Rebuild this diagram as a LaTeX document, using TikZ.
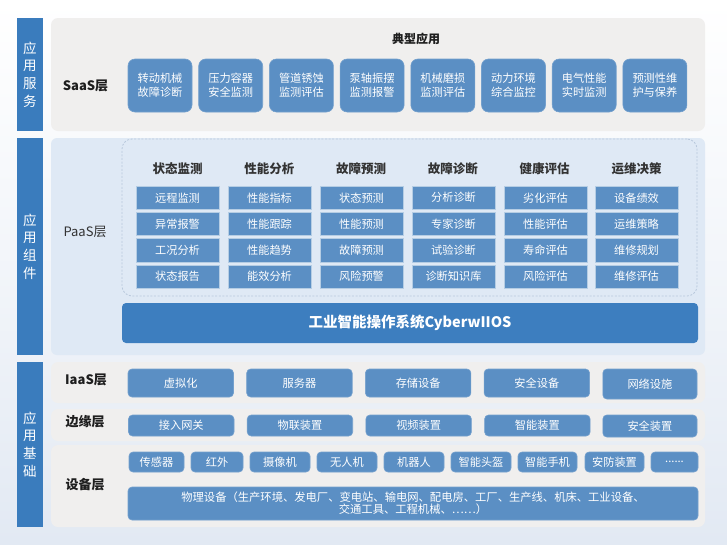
\documentclass[tikz,border=0pt]{standalone}
\usepackage{fontspec}
\setmainfont{Noto Sans CJK SC}
\definecolor{barblue}{HTML}{3A7CBD}
\definecolor{boxblue}{HTML}{5B8FC4}
\definecolor{osblue}{HTML}{3D7EBF}
\definecolor{panelgray}{HTML}{F0EFEE}
\definecolor{panelblue}{HTML}{DFE9F5}
\definecolor{bgblue}{HTML}{E2E9F3}
\definecolor{txtdark}{HTML}{1E1E1E}
\definecolor{txtgray}{HTML}{333333}
\definecolor{dashcol}{HTML}{B8C8DC}
\newcommand\mkbox[7]{\node[#1, minimum width={(#5)-(#3)}, minimum height={(#6)-(#4)}] (#2) at ({((#3)+(#5))/2},{((#4)+(#6))/2}) {#7};}
\begin{document}
\begin{tikzpicture}[x=1pt,y=-1pt,
  every node/.style={inner sep=0pt, outer sep=0pt},
  barstyle/.style={fill=barblue, text=white, align=center, font=\fontsize{13.5}{17.6}\selectfont},
  graypanel/.style={fill=panelgray, rounded corners=7pt},
  bluepanel/.style={fill=panelblue, rounded corners=6pt},
  appbox/.style={fill=boxblue, draw=boxblue!85!white, line width=0.6pt, rounded corners=7pt, text=white, align=center, font=\fontsize{11.2}{14}\selectfont},
  subbox/.style={fill=boxblue, draw=boxblue!45!white, line width=0.8pt, text=white, font=\fontsize{11.2}{13}\selectfont},
  infbox/.style={fill=boxblue, draw=boxblue!85!white, line width=0.6pt, rounded corners=4pt, text=white, align=center, font=\fontsize{11.2}{13}\selectfont},
  layerlab/.style={text=txtdark, font=\fontsize{13}{15}\selectfont\bfseries},
  colhead/.style={text=txtgray, font=\fontsize{12.5}{15}\selectfont\bfseries},
  dashframe/.style={draw=dashcol, line width=0.8pt, dash pattern=on 2pt off 1.6pt, rounded corners=10pt},
  osbar/.style={fill=osblue, rounded corners=4pt, text=white, font=\fontsize{14.5}{17}\selectfont\bfseries}
]
% background
\useasboundingbox (0,0) rectangle (727,544);
\shade[top color=white, bottom color=bgblue, middle color=white!55!bgblue] (0,0) rectangle (727,544);

% left bars
\mkbox{barstyle}{barA}{17}{18}{43}{131}{应\\用\\服\\务}
\mkbox{barstyle}{barB}{17}{138}{43}{355}{应\\用\\组\\件}
\mkbox{barstyle}{barC}{17}{362}{43}{527}{应\\用\\基\\础}

% panels
\mkbox{graypanel}{saas}{51}{18}{705}{131}{}
\mkbox{bluepanel}{paas}{51}{138}{705}{355}{}
\mkbox{graypanel}{iaas}{51}{362}{705}{403}{}
\mkbox{graypanel}{edge}{51}{409}{705}{441}{}
\mkbox{graypanel}{dev}{51}{445}{705}{527}{}

% layer labels
\node[layerlab] (lsaas) at (85.5,86) {SaaS层};
\node[layerlab, font=\fontsize{13}{15}\selectfont, text=txtgray] (lpaas) at (85,232) {PaaS层};
\node[layerlab] (liaas) at (86,380) {IaaS层};
\node[layerlab] (ledge) at (85,422) {边缘层};
\node[layerlab] (ldev) at (85,485) {设备层};

% SaaS
\node[text=txtdark, font=\fontsize{12}{14}\selectfont\bfseries] (typ) at (416,39) {典型应用};
\foreach \t [count=\i] in {{转动机械\\故障诊断},{压力容器\\安全监测},{管道锈蚀\\监测评估},{泵轴振摆\\监测报警},{机械磨损\\监测评估},{动力环境\\综合监控},{电气性能\\实时监测},{预测性维\\护与保养}}{
  \mkbox{appbox}{s\i}{128+70.7*(\i-1)}{59}{192+70.7*(\i-1)}{112}{\t}
}

% PaaS
\mkbox{dashframe}{frame}{122}{139}{697}{296}{}
\foreach \h [count=\c] in {状态监测,性能分析,故障预测,故障诊断,健康评估,运维决策}{
  \node[colhead] (h\c) at ({177.5+91.8*(\c-1)},169) {\h};
}
\foreach \t [count=\i] in {远程监测,异常报警,工况分析,状态报告}{
  \mkbox{subbox}{a1\i}{136}{186+26.3*(\i-1)}{219}{209.5+26.3*(\i-1)}{\t}}
\foreach \t [count=\i] in {性能指标,性能跟踪,性能趋势,能效分析}{
  \mkbox{subbox}{a2\i}{228}{186+26.3*(\i-1)}{311}{209.5+26.3*(\i-1)}{\t}}
\foreach \t [count=\i] in {状态预测,性能预测,故障预测,风险预警}{
  \mkbox{subbox}{a3\i}{320}{186+26.3*(\i-1)}{403}{209.5+26.3*(\i-1)}{\t}}
\foreach \t [count=\i] in {分析诊断,专家诊断,试验诊断,诊断知识库}{
  \mkbox{subbox}{a4\i}{412}{186+26.3*(\i-1)}{495}{209.5+26.3*(\i-1)}{\t}}
\foreach \t [count=\i] in {劣化评估,性能评估,寿命评估,风险评估}{
  \mkbox{subbox}{a5\i}{504}{186+26.3*(\i-1)}{587}{209.5+26.3*(\i-1)}{\t}}
\foreach \t [count=\i] in {设备绩效,运维策略,维修规划,维修评估}{
  \mkbox{subbox}{a6\i}{595}{186+26.3*(\i-1)}{678}{209.5+26.3*(\i-1)}{\t}}
\mkbox{osbar}{os}{122}{303}{698}{343}{工业智能操作系统CyberwIIOS}

% IaaS
\foreach \t [count=\i] in {虚拟化,服务器,存储设备,安全设备}{
  \mkbox{infbox}{i\i}{128+118.7*(\i-1)}{369}{233.5+118.7*(\i-1)}{397}{\t}}
\mkbox{infbox}{i5}{602.8}{369}{697}{399}{网络设施}

% edge
\foreach \t [count=\i] in {接入网关,物联装置,视频装置,智能装置}{
  \mkbox{infbox}{e\i}{128.5+118.7*(\i-1)}{415}{234+118.7*(\i-1)}{436}{\t}}
\mkbox{infbox}{e5}{602.8}{415}{697}{437}{安全装置}

% devices
\mkbox{infbox}{d1}{129}{452}{184}{472}{传感器}
\mkbox{infbox}{d2}{191}{452}{243}{472}{红外}
\mkbox{infbox}{d3}{250}{452}{310}{472}{摄像机}
\mkbox{infbox}{d4}{317}{452}{377}{472}{无人机}
\mkbox{infbox}{d5}{384}{452}{444}{472}{机器人}
\mkbox{infbox}{d6}{451}{452}{511}{472}{智能头盔}
\mkbox{infbox}{d7}{518}{452}{577}{472}{智能手机}
\mkbox{infbox}{d8}{585}{452}{644}{472}{安防装置}
\mkbox{infbox}{d9}{651}{452}{698}{472}{......}
\mkbox{infbox, font=\fontsize{11.3}{12.3}\selectfont}{phys}{128}{487}{698}{520}{物理设备（生产环境、发电厂、变电站、输电网、配电房、工厂、生产线、机床、工业设备、\\交通工具、工程机械、……）}
\end{tikzpicture}
\end{document}
